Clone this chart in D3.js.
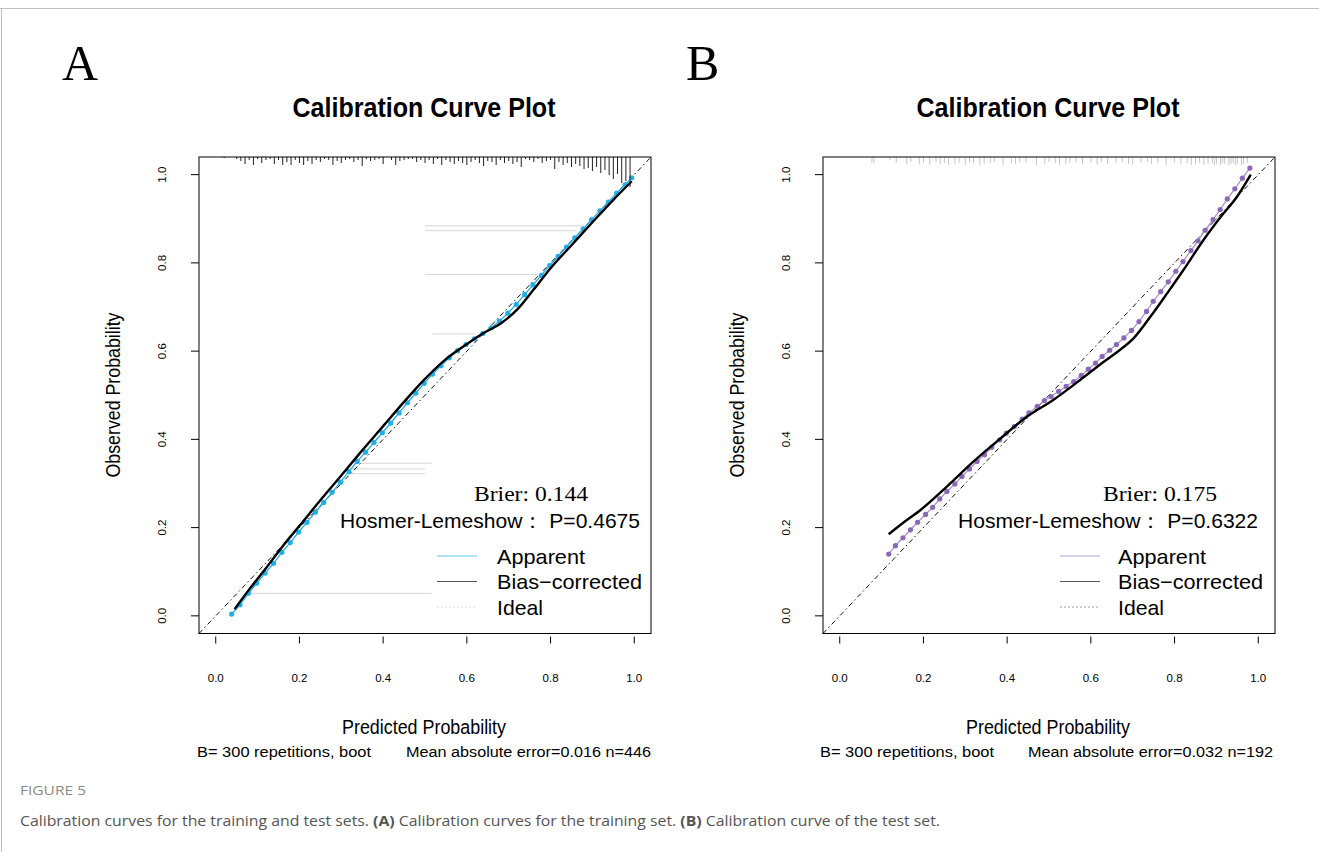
<!DOCTYPE html>
<html>
<head>
<meta charset="utf-8">
<script src="https://cdn.jsdelivr.net/npm/d3@7"></script>
<style>
body { margin: 0; background: #fff; }
svg { display: block; }
</style>
</head>
<body>
<svg id="chart" width="1319" height="852"></svg>
<script>
const tickValues = [0, 0.2, 0.4, 0.6, 0.8, 1.0]
const tickLabels = ["0.0", "0.2", "0.4", "0.6", "0.8", "1.0"]

// ---- panel A (training set) ----
const appXA = [0.038, 0.058, 0.078, 0.098, 0.118, 0.138, 0.158, 0.178, 0.198, 0.218, 0.238, 0.258, 0.278, 0.298,
    0.318, 0.338, 0.358, 0.378, 0.398, 0.418, 0.438, 0.458, 0.478, 0.498, 0.518, 0.538, 0.558, 0.578, 0.598,
    0.618, 0.638, 0.658, 0.678, 0.698, 0.718, 0.738, 0.758, 0.778, 0.798, 0.818, 0.838, 0.858, 0.878, 0.898,
    0.918, 0.938, 0.958, 0.978, 0.994]
const appYA = [0.004, 0.025, 0.051, 0.074, 0.097, 0.119, 0.144, 0.166, 0.190, 0.212, 0.235, 0.257, 0.280, 0.303,
    0.327, 0.350, 0.371, 0.393, 0.415, 0.437, 0.460, 0.483, 0.505, 0.527, 0.548, 0.567, 0.585, 0.601, 0.615,
    0.628, 0.640, 0.653, 0.668, 0.686, 0.706, 0.728, 0.750, 0.772, 0.794, 0.815, 0.836, 0.857, 0.877, 0.898,
    0.918, 0.938, 0.958, 0.977, 0.993]
const biasXA = [0.045, 0.08, 0.12, 0.16, 0.20, 0.25, 0.30, 0.35, 0.40, 0.45, 0.50, 0.55, 0.60, 0.64, 0.68,
    0.72, 0.76, 0.80, 0.85, 0.90, 0.95, 0.994]
const biasYA = [0.015, 0.060, 0.108, 0.158, 0.204, 0.262, 0.318, 0.375, 0.430, 0.485, 0.537, 0.582, 0.616, 0.641,
    0.662, 0.694, 0.740, 0.788, 0.840, 0.892, 0.943, 0.985]
const rugXA = [0.02, 0.03, 0.04, 0.05, 0.06, 0.07, 0.08, 0.09, 0.10, 0.11, 0.12, 0.13, 0.14, 0.15, 0.16, 0.17,
    0.18, 0.19, 0.20, 0.21, 0.22, 0.23, 0.24, 0.25, 0.26, 0.27, 0.28, 0.29, 0.30, 0.31, 0.32, 0.33, 0.34, 0.35,
    0.36, 0.37, 0.38, 0.39, 0.40, 0.41, 0.42, 0.43, 0.44, 0.45, 0.46, 0.47, 0.48, 0.49, 0.50, 0.51, 0.52, 0.53,
    0.54, 0.55, 0.56, 0.57, 0.58, 0.59, 0.60, 0.61, 0.62, 0.63, 0.64, 0.65, 0.66, 0.67, 0.68, 0.69, 0.70, 0.71,
    0.72, 0.73, 0.74, 0.75, 0.76, 0.77, 0.78, 0.79, 0.80, 0.81, 0.82, 0.83, 0.84, 0.85, 0.86, 0.87, 0.88, 0.89,
    0.90, 0.91, 0.92, 0.93, 0.94, 0.95, 0.96, 0.97, 0.98, 0.99]
const rugHA = [1, 0, 0, 2, 4, 7, 3, 8, 2, 6, 3, 2, 7, 3, 8, 5, 8, 3, 6, 8, 4, 7, 3, 5, 2, 3, 8, 4, 6, 3, 2, 5, 3, 9,
    2, 4, 3, 2, 7, 0, 3, 8, 4, 3, 2, 2, 5, 3, 6, 3, 7, 2, 8, 3, 5, 7, 4, 6, 8, 5, 3, 6, 9, 4, 5, 8, 3, 6, 4, 7,
    5, 10, 2, 3, 5, 2, 6, 4, 3, 12, 5, 8, 6, 10, 7, 9, 12, 11, 14, 10, 16, 13, 18, 22, 17, 26, 24, 30]
// thin grey segments: start x, end x, y
const segX0A = [0.500, 0.500, 0.500, 0.518, 0.330, 0.325, 0.316, 0.086]
const segX1A = [0.880, 0.860, 0.770, 0.620, 0.516, 0.500, 0.500, 0.516]
const segYA = [0.884, 0.873, 0.774, 0.639, 0.346, 0.333, 0.322, 0.051]

// ---- panel B (test set) ----
const appXB = [0.117, 0.133, 0.151, 0.169, 0.186, 0.205, 0.222, 0.239, 0.256, 0.275, 0.292, 0.310, 0.328, 0.346,
    0.363, 0.382, 0.398, 0.417, 0.436, 0.452, 0.472, 0.489, 0.505, 0.523, 0.541, 0.559, 0.577, 0.594, 0.611,
    0.627, 0.645, 0.661, 0.679, 0.697, 0.715, 0.733, 0.749, 0.767, 0.785, 0.803, 0.820, 0.839, 0.856, 0.873,
    0.892, 0.909, 0.926, 0.944, 0.962, 0.980]
const appYB = [0.140, 0.159, 0.177, 0.195, 0.212, 0.230, 0.246, 0.265, 0.282, 0.299, 0.316, 0.333, 0.350, 0.365,
    0.382, 0.399, 0.414, 0.429, 0.446, 0.460, 0.475, 0.488, 0.497, 0.509, 0.520, 0.531, 0.545, 0.559, 0.573,
    0.588, 0.602, 0.615, 0.630, 0.647, 0.667, 0.690, 0.713, 0.735, 0.757, 0.781, 0.803, 0.828, 0.850, 0.874,
    0.898, 0.921, 0.945, 0.968, 0.992, 1.015]
const biasXB = [0.117, 0.15, 0.193, 0.256, 0.320, 0.384, 0.448, 0.511, 0.575, 0.631, 0.663, 0.703, 0.743, 0.783,
    0.822, 0.870, 0.911, 0.950, 0.982]
const biasYB = [0.185, 0.210, 0.240, 0.293, 0.350, 0.402, 0.452, 0.490, 0.535, 0.576, 0.598, 0.630, 0.679, 0.732,
    0.785, 0.853, 0.905, 0.951, 1.000]
const rugXB = [0.077, 0.082, 0.12, 0.135, 0.16, 0.17, 0.19, 0.20, 0.215, 0.23, 0.24, 0.25, 0.26, 0.275, 0.285,
    0.30, 0.31, 0.32, 0.335, 0.345, 0.36, 0.37, 0.39, 0.41, 0.42, 0.43, 0.445, 0.47, 0.49, 0.50, 0.515, 0.525,
    0.54, 0.55, 0.565, 0.58, 0.60, 0.615, 0.625, 0.64, 0.66, 0.675, 0.69, 0.70, 0.72, 0.735, 0.745, 0.76, 0.78,
    0.80, 0.815, 0.83, 0.84, 0.85, 0.86, 0.87, 0.88, 0.89, 0.895, 0.90, 0.91, 0.915, 0.92, 0.93, 0.935, 0.94,
    0.945, 0.95, 0.96, 0.965, 0.974]
const rugHB = [6, 6, 3, 6, 7, 5, 7, 6, 8, 5, 7, 6, 8, 7, 6, 8, 5, 6, 8, 7, 6, 5, 8, 6, 7, 5, 6, 8, 7, 5, 6, 8, 7,
    6, 5, 7, 6, 8, 5, 7, 6, 5, 7, 8, 6, 5, 7, 6, 8, 5, 7, 6, 8, 7, 6, 8, 7, 6, 8, 7, 8, 6, 7, 8, 7, 6, 8, 7, 8,
    7, 6]

const panels = [
    {
        letter: "A", dx: 0, appX: appXA, appY: appYA, biasX: biasXA, biasY: biasYA,
        rugX: rugXA, rugH: rugHA, rugColor: "#222", rugWidth: 1,
        segX0: segX0A, segX1: segX1A, segY: segYA,
        appColor: "#1eaee8", appLine: "#1eaee8", appLegend: "#5cc6ef", idealLegend: "#d6dde6",
        brier: "Brier: 0.144", hl: "Hosmer-Lemeshow：  P=0.4675",
        mae: "Mean absolute error=0.016 n=446",
        brierX: 474, hlX: 340, legLineX: 437, legTextX: 497, subX: 197, maeX: 406
    },
    {
        letter: "B", dx: 624, appX: appXB, appY: appYB, biasX: biasXB, biasY: biasYB,
        rugX: rugXB, rugH: rugHB, rugColor: "#b8b8b8", rugWidth: 0.8,
        segX0: [], segX1: [], segY: [],
        appColor: "#8a68b8", appLine: "#a993d2", appLegend: "#b2a2d8", idealLegend: "#9a9a9a",
        brier: "Brier: 0.175", hl: "Hosmer-Lemeshow：  P=0.6322",
        mae: "Mean absolute error=0.032 n=192",
        brierX: 1103, hlX: 958, legLineX: 1060, legTextX: 1118, subX: 820, maeX: 1028
    }
]

const svg = d3.select("#chart")
const sans = "Liberation Sans, Arial, sans-serif"
const serif = "Liberation Serif, Times New Roman, serif"

// figure frame
svg.append("line").attr("x1", 0).attr("x2", 1319).attr("y1", 8.5).attr("y2", 8.5)
    .attr("stroke", "#bdbdbd").attr("stroke-width", 1)
svg.append("line").attr("x1", 1.5).attr("x2", 1.5).attr("y1", 8).attr("y2", 852)
    .attr("stroke", "#bdbdbd").attr("stroke-width", 1)

function label(g, x, y, s, o) {
    const t = g.append("text").attr("x", x).attr("y", y).text(s)
        .attr("font-family", o.font || sans).attr("font-size", o.size)
        .attr("fill", o.fill || "#000")
    if (o.weight) t.attr("font-weight", o.weight)
    if (o.anchor) t.attr("text-anchor", o.anchor)
    if (o.len) t.attr("textLength", o.len).attr("lengthAdjust", "spacingAndGlyphs")
    if (o.transform) t.attr("transform", o.transform)
    return t
}

function draw(p) {
    const g = svg.append("g")
    const left = 199 + p.dx, right = 651 + p.dx
    const top = 157, bottom = 633.5
    const x = d3.scaleLinear().domain([-0.04, 1.04]).range([left, right])
    const y = d3.scaleLinear().domain([-0.04, 1.04]).range([bottom, top])
    const rugLen = d3.scaleLinear().domain([0, 30]).range([0, 30])

    // panel letter and title
    label(g, 62 + p.dx, 80, p.letter, { font: serif, size: 50 })
    label(g, 424 + p.dx, 117, "Calibration Curve Plot", { size: 27, weight: "bold", anchor: "middle", len: 263 })

    // grey segments
    g.selectAll(".seg").data(p.segY).join("line")
        .attr("x1", (d, i) => x(p.segX0[i])).attr("x2", (d, i) => x(p.segX1[i]))
        .attr("y1", d => y(d)).attr("y2", d => y(d))
        .attr("stroke", "#d4d4d4").attr("stroke-width", 1)

    // ideal line, corner to corner
    g.append("line")
        .attr("x1", x(-0.04)).attr("y1", y(-0.04)).attr("x2", x(1.04)).attr("y2", y(1.04))
        .attr("stroke", "#111").attr("stroke-width", 1).attr("stroke-dasharray", "5,3,1.5,3")

    // apparent
    const pts = p.appX.map((v, i) => [v, p.appY[i]])
    g.append("path").datum(pts)
        .attr("d", d3.line().x(d => x(d[0])).y(d => y(d[1])))
        .attr("fill", "none").attr("stroke", p.appLine).attr("stroke-width", 1.3)
    g.selectAll(".pt").data(pts).join("circle")
        .attr("cx", d => x(d[0])).attr("cy", d => y(d[1])).attr("r", 2.6)
        .attr("fill", p.appColor)

    // bias-corrected
    const bias = p.biasX.map((v, i) => [v, p.biasY[i]])
    g.append("path").datum(bias)
        .attr("d", d3.line().curve(d3.curveMonotoneX).x(d => x(d[0])).y(d => y(d[1])))
        .attr("fill", "none").attr("stroke", "#000").attr("stroke-width", 2.4)

    // rug of predicted probabilities hanging from the top
    g.selectAll(".rug").data(p.rugX).join("line")
        .attr("x1", d => x(d)).attr("x2", d => x(d))
        .attr("y1", top).attr("y2", (d, i) => top + rugLen(p.rugH[i]))
        .attr("stroke", p.rugColor).attr("stroke-width", p.rugWidth)

    // box
    g.append("rect").attr("x", left).attr("y", top).attr("width", right - left).attr("height", bottom - top)
        .attr("fill", "none").attr("stroke", "#000").attr("stroke-width", 1)

    // axes
    g.selectAll(".xt").data(tickValues).join("line")
        .attr("x1", d => x(d)).attr("x2", d => x(d)).attr("y1", bottom + 3).attr("y2", bottom + 10)
        .attr("stroke", "#000")
    g.selectAll(".xl").data(tickValues).join("text")
        .attr("x", d => x(d)).attr("y", 682).attr("text-anchor", "middle")
        .attr("font-family", sans).attr("font-size", 11.5).text((d, i) => tickLabels[i])
    g.selectAll(".yt").data(tickValues).join("line")
        .attr("x1", left - 8).attr("x2", left).attr("y1", d => y(d)).attr("y2", d => y(d))
        .attr("stroke", "#000")
    g.selectAll(".yl").data(tickValues).join("text")
        .attr("transform", d => `translate(${166 + p.dx},${y(d)}) rotate(-90)`)
        .attr("text-anchor", "middle")
        .attr("font-family", sans).attr("font-size", 11.5).text((d, i) => tickLabels[i])

    label(g, 424 + p.dx, 734, "Predicted Probability", { size: 20, anchor: "middle", len: 164 })
    label(g, 0, 0, "Observed Probability", {
        size: 20, anchor: "middle", len: 165,
        transform: `translate(${120 + p.dx},395) rotate(-90)`
    })
    label(g, p.subX, 757, "B= 300 repetitions, boot", { size: 15.5, len: 174 })
    label(g, p.maeX, 757, p.mae, { size: 15.5, len: 245 })

    // statistics and legend
    label(g, p.brierX, 501, p.brier, { font: serif, size: 22, len: 114 })
    label(g, p.hlX, 528, p.hl, { size: 21, len: 300 })
    const legend = [
        { name: "Apparent", color: p.appLegend, dash: null, w: 88 },
        { name: "Bias\u2212corrected", color: "#555", dash: null, w: 145 },
        { name: "Ideal", color: p.idealLegend, dash: "2,2", w: 46 }
    ]
    legend.forEach((l, i) => {
        const ly = 556 + i * 25.5
        g.append("line").attr("x1", p.legLineX).attr("x2", p.legLineX + 40).attr("y1", ly).attr("y2", ly)
            .attr("stroke", l.color).attr("stroke-width", 1.2).attr("stroke-dasharray", l.dash)
        label(g, p.legTextX, ly + 7.5, l.name, { size: 21, len: l.w })
    })
}

panels.forEach(draw)

// caption
label(svg, 20, 795, "FIGURE 5", { font: "Open Sans, sans-serif", size: 13, fill: "#8a8a8a", len: 66 })
const cap = svg.append("text").attr("x", 20).attr("y", 826)
    .attr("font-family", "Open Sans, sans-serif").attr("font-size", 15).attr("fill", "#555")
    .attr("textLength", 920).attr("lengthAdjust", "spacingAndGlyphs")
cap.append("tspan").text("Calibration curves for the training and test sets. ")
cap.append("tspan").attr("font-weight", "bold").text("(A)")
cap.append("tspan").text(" Calibration curves for the training set. ")
cap.append("tspan").attr("font-weight", "bold").text("(B)")
cap.append("tspan").text(" Calibration curve of the test set.")
</script>
</body>
</html>
